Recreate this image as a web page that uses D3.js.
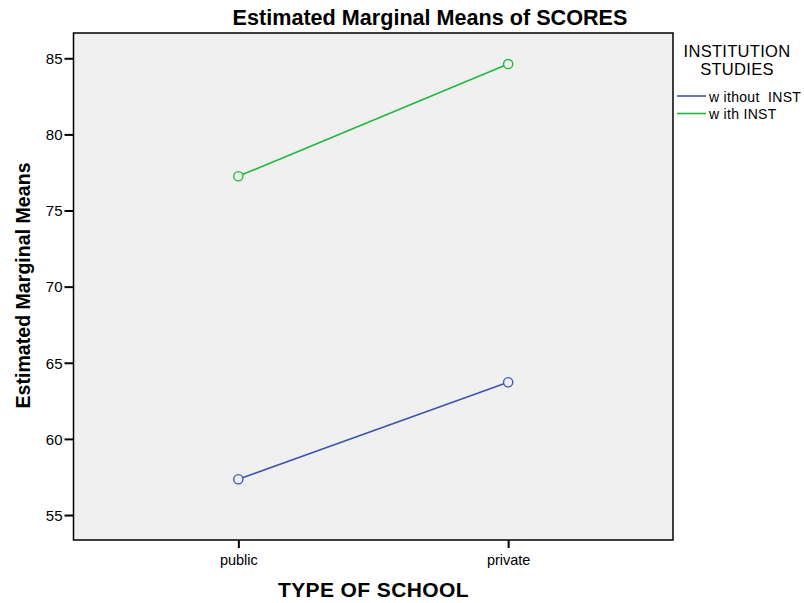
<!DOCTYPE html>
<html>
<head>
<meta charset="utf-8">
<script src="https://cdn.jsdelivr.net/npm/d3@7"></script>
<style>
  html, body { margin: 0; padding: 0; background: #fff; overflow: hidden; }
  svg { display: block; }
  text { font-family: Arial, "Liberation Sans", sans-serif; }
</style>
</head>
<body>
<div id="chart"></div>
<script>
// Estimated marginal means of SCORES by school type and institution studies

const schoolTypes = ['public', 'private'];
const groups = ['w\u00a0ithout\u00a0 INST', 'w\u00a0ith INST'];
const withoutInst = [57.35, 63.72];
const withInst = [77.25, 84.62];
const yTicks = [55, 60, 65, 70, 75, 80, 85];

const series = [
  { name: groups[0], values: withoutInst, color: '#3c56b0' },
  { name: groups[1], values: withInst, color: '#22b83f' }
];

const width = 804;
const height = 603;
const margin = { top: 33, right: 131, bottom: 63, left: 73.5 };
const innerWidth = width - margin.left - margin.right;
const innerHeight = height - margin.top - margin.bottom;

const svg = d3.select('#chart')
  .append('svg')
  .attr('width', width)
  .attr('height', height);

const g = svg.append('g')
  .attr('transform', `translate(${margin.left}, ${margin.top})`);

// Scales
const x = d3.scalePoint()
  .domain(schoolTypes)
  .range([0, innerWidth])
  .padding(0.611);

const y = d3.scaleLinear()
  .domain([53.36, 86.66])
  .range([innerHeight, 0]);

// Plot background
g.append('rect')
  .attr('width', innerWidth)
  .attr('height', innerHeight)
  .attr('fill', '#f0f0f0')
  .attr('stroke', '#000')
  .attr('stroke-width', 1.5);

// Axes
const yAxis = g.append('g')
  .call(d3.axisLeft(y).tickValues(yTicks).tickSize(9).tickPadding(2));
yAxis.select('.domain').remove();
yAxis.attr('fill', null);
yAxis.selectAll('line').attr('stroke', '#000').attr('stroke-width', 2);
yAxis.selectAll('text')
  .attr('dy', null)
  .attr('y', 5.3)
  .attr('text-anchor', 'end')
  .attr('font-size', 15)
  .attr('fill', '#000');

const xAxis = g.append('g')
  .attr('transform', `translate(0, ${innerHeight})`)
  .call(d3.axisBottom(x).tickSize(8).tickPadding(6));
xAxis.select('.domain').remove();
xAxis.attr('fill', null);
xAxis.selectAll('line').attr('stroke', '#000').attr('stroke-width', 2);
xAxis.selectAll('text')
  .attr('dy', null)
  .attr('y', 24.5)
  .attr('text-anchor', 'middle')
  .attr('font-size', 14.5)
  .attr('fill', '#000');

// Lines and markers
const line = d3.line()
  .x((d, i) => x(schoolTypes[i]))
  .y(d => y(d));

series.forEach(s => {
  g.append('path')
    .datum(s.values)
    .attr('fill', 'none')
    .attr('stroke', s.color)
    .attr('stroke-width', 1.6)
    .attr('d', line);

  g.selectAll(null)
    .data(s.values)
    .enter()
    .append('circle')
    .attr('cx', (d, i) => x(schoolTypes[i]))
    .attr('cy', d => y(d))
    .attr('r', 4.6)
    .attr('fill', '#f0f0f0')
    .attr('stroke', s.color)
    .attr('stroke-width', 1.4);
});

// Title
svg.append('text')
  .attr('x', 430)
  .attr('y', 25)
  .attr('text-anchor', 'middle')
  .style('font-size', '21.6px')
  .style('font-weight', 'bold')
  .text('Estimated Marginal Means of SCORES');

// Axis labels
svg.append('text')
  .attr('transform', 'rotate(-90)')
  .attr('x', -285.5)
  .attr('y', 30)
  .attr('text-anchor', 'middle')
  .style('font-size', '19.6px')
  .style('font-weight', 'bold')
  .text('Estimated Marginal Means');

svg.append('text')
  .attr('x', 373.5)
  .attr('y', 597)
  .attr('text-anchor', 'middle')
  .style('font-size', '21px')
  .style('font-weight', 'bold')
  .style('letter-spacing', '0.4px')
  .text('TYPE OF SCHOOL');

// Legend
const legend = svg.append('g');
legend.append('text')
  .attr('x', 737)
  .attr('y', 57)
  .attr('text-anchor', 'middle')
  .style('font-size', '16.5px')
  .style('letter-spacing', '0.3px')
  .text('INSTITUTION');
legend.append('text')
  .attr('x', 737)
  .attr('y', 74.5)
  .attr('text-anchor', 'middle')
  .style('font-size', '16.5px')
  .style('letter-spacing', '0.3px')
  .text('STUDIES');

series.forEach((s, i) => {
  const ly = 96 + i * 17.5;
  legend.append('line')
    .attr('x1', 677)
    .attr('x2', 706)
    .attr('y1', ly)
    .attr('y2', ly)
    .attr('stroke', s.color)
    .attr('stroke-width', 1.6);
  legend.append('text')
    .attr('x', 709)
    .attr('y', ly + 5.5)
    .style('font-size', '14px')
    .style('letter-spacing', '0.3px')
    .text(s.name);
});
</script>
</body>
</html>
